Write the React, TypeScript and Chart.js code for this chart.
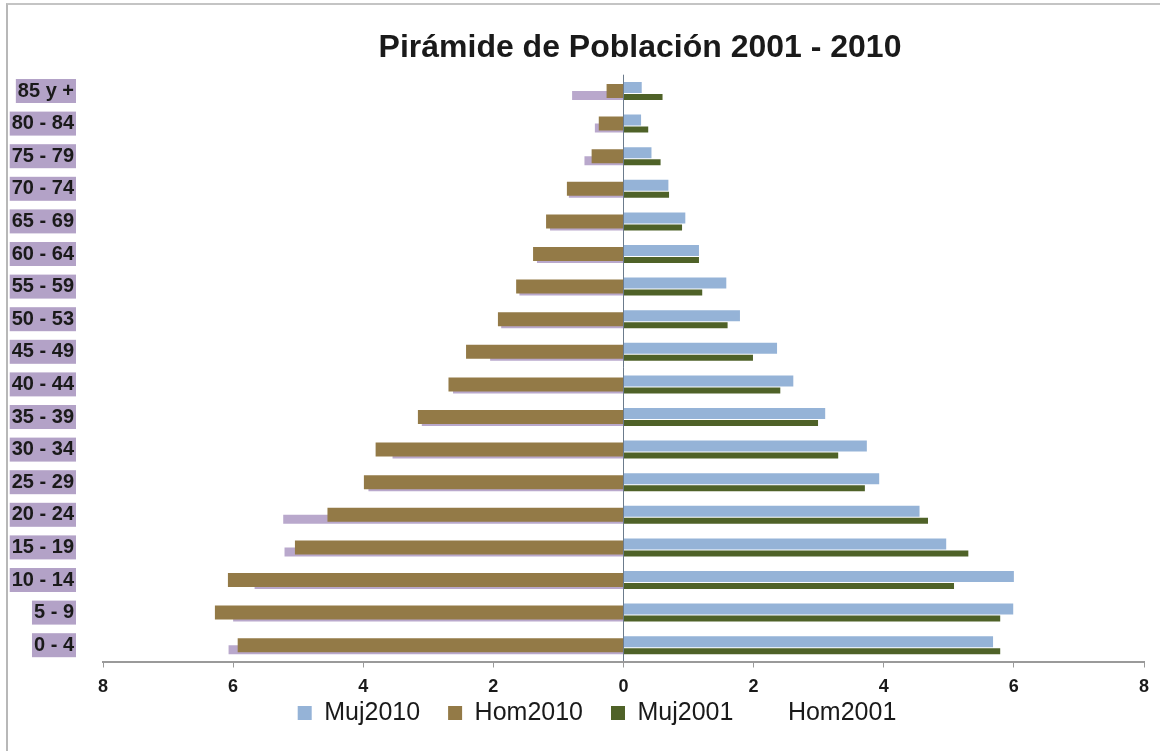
import { useEffect, useRef } from 'react';
import { Chart, registerables } from 'chart.js';

Chart.register(...registerables);

const titleText = 'Pirámide de Población 2001 - 2010';
const ageGroups = ['85 y +', '80 - 84', '75 - 79', '70 - 74', '65 - 69', '60 - 64', '55 - 59', '50 - 53', '45 - 49', '40 - 44', '35 - 39', '30 - 34', '25 - 29', '20 - 24', '15 - 19', '10 - 14', '5 - 9', '0 - 4'];
const muj2010 = [0.28, 0.27, 0.43, 0.69, 0.95, 1.16, 1.58, 1.79, 2.36, 2.61, 3.1, 3.74, 3.93, 4.55, 4.96, 6.0, 5.99, 5.68];
const hom2010 = [0.26, 0.38, 0.49, 0.87, 1.19, 1.39, 1.65, 1.93, 2.42, 2.69, 3.16, 3.81, 3.99, 4.55, 5.05, 6.08, 6.28, 5.93];
const muj2001 = [0.6, 0.38, 0.57, 0.7, 0.9, 1.16, 1.21, 1.6, 1.99, 2.41, 2.99, 3.3, 3.71, 4.68, 5.3, 5.08, 5.79, 5.79];
const hom2001 = [0.79, 0.44, 0.6, 0.84, 1.13, 1.33, 1.6, 1.88, 2.05, 2.62, 3.1, 3.55, 3.92, 5.23, 5.21, 5.67, 6.0, 6.07];
const xMin = -8;
const xMax = 8;
const xStep = 2;

const FONT = '"Liberation Sans", Arial, Helvetica, sans-serif';

const titlePlugin = {
  id: 'pyramidTitle',
  afterLayout(chart: any) {
    const lg = chart.legend;
    if (lg) {
      lg.left = 50;
      lg.right = 1144;
      lg.width = 1094;
      lg.top = 672.5;
      lg.bottom = 751;
      lg.height = 751 - 672.5;
    }
  },
  afterDraw(chart: any) {
    const { ctx } = chart;
    ctx.save();
    ctx.font = `bold 32px ${FONT}`;
    ctx.fillStyle = '#1a1a1a';
    ctx.textAlign = 'center';
    ctx.textBaseline = 'alphabetic';
    ctx.fillText(titleText, 640, 57);
    ctx.restore();
  },
};

export default function App() {
  const ref = useRef<HTMLCanvasElement | null>(null);

  useEffect(() => {
    if (!ref.current) return;
    const chart = new Chart(ref.current, {
      type: 'bar',
      data: {
        labels: ageGroups,
        datasets: [
          {
            label: 'Muj2010',
            data: muj2010,
            backgroundColor: '#95b3d7',
            stack: 'a',
            categoryPercentage: 0.429,
            barPercentage: 1.571,
          },
          {
            label: 'Hom2010',
            data: hom2010.map((v) => -v),
            backgroundColor: '#937a47',
            grouped: false,
            categoryPercentage: 1,
            barPercentage: 0.43,
          },
          {
            label: 'Muj2001',
            data: muj2001,
            backgroundColor: '#4f6228',
            stack: 'b',
            categoryPercentage: 0.736,
            barPercentage: 0.5,
          },
          {
            label: 'Hom2001',
            data: hom2001.map((v) => -v),
            backgroundColor: '#b9a8cc',
            stack: 'b',
            categoryPercentage: 0.552,
            barPercentage: 1.0,
          },
        ] as any,
      },
      options: {
        indexAxis: 'y',
        animation: false,
        responsive: true,
        maintainAspectRatio: false,
        layout: { padding: { top: 74.7, left: 0, right: 16, bottom: 6.5 } },
        scales: {
          x: {
            type: 'linear',
            min: xMin,
            max: xMax,
            stacked: false,
            afterFit: (scale: any) => {
              scale.height = 38;
            },
            ticks: {
              stepSize: xStep,
              padding: 9,
              color: '#1a1a1a',
              font: { family: FONT, size: 18, weight: 'bold' },
              callback: (v: any) => String(Math.abs(Number(v))),
            },
            grid: {
              color: (ctx: any) => (ctx.tick && ctx.tick.value === 0 ? '#6b7b8c' : 'rgba(0,0,0,0)'),
              tickColor: '#9a9a9a',
              tickLength: 6,
              lineWidth: 1,
            },
            border: { display: true, color: '#9a9a9a', width: 2 },
          },
          y: {
            type: 'category',
            afterFit: (scale: any) => {
              scale.width = 103;
            },
            grid: { display: false },
            border: { display: false },
            ticks: {
              padding: 21,
              color: '#1a1a1a',
              font: { family: FONT, size: 20, weight: 'bold' },
              showLabelBackdrop: true,
              backdropColor: '#b3a2c7',
              backdropPadding: { top: 0, bottom: 0, left: 2, right: 2 },
            } as any,
          },
        },
        plugins: {
          title: { display: false },
          tooltip: { enabled: false },
          legend: {
            display: true,
            position: 'bottom',
            maxHeight: 45,
            labels: {
              boxWidth: 14,
              boxHeight: 14,
              padding: 28,
              color: '#1a1a1a',
              font: { family: FONT, size: 25 },
              generateLabels: (c: any) => {
                const items = (Chart.defaults as any).plugins.legend.labels.generateLabels(c);
                return items.map((it: any) =>
                  it.text === 'Hom2001'
                    ? { ...it, fillStyle: 'rgba(0,0,0,0)', strokeStyle: 'rgba(0,0,0,0)', lineWidth: 0 }
                    : { ...it, lineWidth: 0 }
                );
              },
            },
          },
        },
      } as any,
      plugins: [titlePlugin],
    });
    return () => chart.destroy();
  }, []);

  return (
    <div style={{ position: 'fixed', left: 0, top: 0, width: 1160, height: 751, background: '#ffffff' }}>
      <div style={{ position: 'absolute', left: 0, top: 0, width: 1160, height: 751 }}>
        <canvas ref={ref} />
      </div>
      <div
        style={{
          position: 'absolute',
          left: 6,
          top: 3,
          right: 0,
          bottom: 0,
          borderLeft: '2px solid #b8b8b8',
          borderTop: '2px solid #c4c4c4',
          pointerEvents: 'none',
        }}
      />
    </div>
  );
}
